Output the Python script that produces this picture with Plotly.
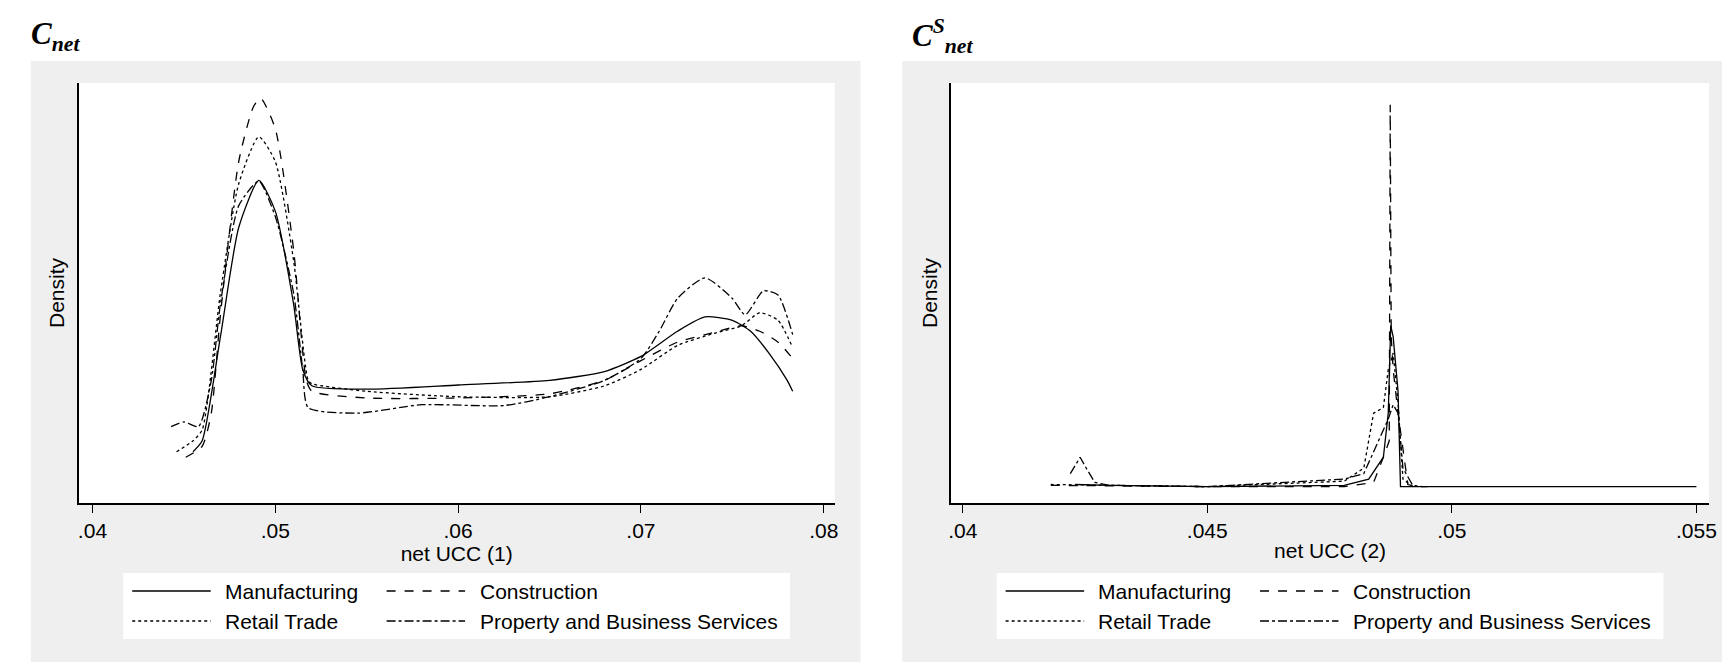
import plotly.graph_objects as go

series_names = ["Manufacturing", "Construction", "Retail Trade", "Property and Business Services"]
dashes = ["solid", "dash", "dot", "dashdot"]

# Panel 1: net UCC (1)
m1_x = [.0455,.046,.047,.048,.0491,.050,.051,.0515,.052,.055,.06,.065,.068,.07,.072,.0735,.075,.076,.077,.078,.0783]
m1_y = [12.2,14.8,39.6,65.6,76.8,69.5,47.4,31.8,27.9,27.1,28.1,29.2,31.3,34.9,40.9,44.3,43.5,40.9,35.7,29.2,26.6]
c1_x = [.0451,.046,.0465,.047,.048,.0488,.0492,.050,.051,.0517,.052,.055,.06,.065,.068,.07,.072,.074,.0755,.0765,.0775,.0783]
c1_y = [10.9,13.5,21.4,44.8,81.3,94.3,96.4,89.1,60.4,29.2,26.6,25.0,25.0,26.0,29.2,33.9,38.3,40.6,42.2,40.9,38.3,34.4]
r1_x = [.0446,.0455,.046,.047,.048,.0491,.050,.051,.0518,.052,.055,.06,.065,.068,.07,.072,.074,.0755,.0765,.0775,.0783]
r1_y = [12.2,14.8,17.4,50.0,76.0,87.2,81.3,57.8,29.2,28.4,26.6,25.3,25.3,27.9,31.8,37.5,40.4,42.2,45.3,43.5,37.0]
p1_x = [.0443,.045,.0458,.0465,.047,.048,.0491,.050,.051,.0515,.0518,.0545,.058,.0625,.065,.068,.07,.071,.072,.0735,.075,.0757,.0767,.0775,.0783]
p1_y = [18.2,19.3,18.2,29.2,47.4,70.8,76.6,68.2,50.0,31.8,22.7,21.4,23.4,23.2,25.3,29.2,34.4,40.9,48.7,53.6,48.7,44.8,50.5,49.5,40.1]

# Panel 2: net UCC (2)
m2_x = [.0423,.043,.045,.0478,.0483,.0486,.0487,.04875,.0488,.0489,.04895,.049,.055]
m2_y = [4.4,4.2,3.9,4.2,5.7,10.9,21.4,42.2,39.6,26.6,3.9,3.9,3.9]
c2_x = [.0418,.045,.0478,.0484,.0486,.04872,.04874,.04876,.0488,.0489,.0491,.0493,.0495]
c2_y = [4.2,3.9,3.9,4.9,10.9,14.8,94.8,39.6,31.8,21.4,4.4,3.9,3.9]
r2_x = [.0418,.045,.0478,.0482,.0484,.0486,.0487,.0488,.0489,.049,.0492]
r2_y = [4.4,3.9,5.2,8.3,21.4,22.7,31.8,35.7,24.0,5.7,3.9]
p2_x = [.0422,.0424,.0425,.0427,.043,.045,.0478,.0482,.0485,.0487,.0488,.0489,.049,.0492,.0494]
p2_y = [7.0,10.9,8.8,4.9,4.2,3.9,5.7,7.0,14.8,20.0,23.4,21.4,8.3,4.2,3.9]

W, H = 1730, 662
def px(x): return x / W
def py(y): return 1 - y / H

fig = go.Figure()
for xs, ys, d in [(m1_x, m1_y, "solid"), (c1_x, c1_y, "dash"), (r1_x, r1_y, "dot"), (p1_x, p1_y, "dashdot")]:
    fig.add_trace(go.Scatter(x=xs, y=ys, mode="lines", line=dict(color="black", width=1.3, dash=d, shape="spline", smoothing=0.6), showlegend=False, xaxis="x", yaxis="y"))
for xs, ys, d in [(m2_x, m2_y, "solid"), (c2_x, c2_y, "dash"), (r2_x, r2_y, "dot"), (p2_x, p2_y, "dashdot")]:
    fig.add_trace(go.Scatter(x=xs, y=ys, mode="lines", line=dict(color="black", width=1.3, dash=d), showlegend=False, xaxis="x2", yaxis="y2"))

font = dict(family="Liberation Sans, Arial", size=21, color="black")
ydom = [py(495), py(75)]
common_x = dict(showgrid=False, zeroline=False, showline=True, linecolor="black", linewidth=1.5,
                ticks="outside", ticklen=8, tickcolor="black", tickfont=font, title_font=font, title_standoff=2)
common_y = dict(showgrid=False, zeroline=False, showline=True, linecolor="black", linewidth=1.5,
                showticklabels=False, ticks="", title_text="Density", title_font=font, range=[0, 100], title_standoff=6)

fig.update_layout(
    width=W, height=H, margin=dict(l=0, r=0, t=0, b=0),
    paper_bgcolor="white", plot_bgcolor="white",
    xaxis=dict(domain=[px(68), px(829)], range=[0.03924, 0.0806], tickvals=[.04, .05, .06, .07, .08],
               ticktext=[".04", ".05", ".06", ".07", ".08"], title_text="net UCC (1)", anchor="y", **common_x),
    yaxis=dict(domain=ydom, anchor="x", **common_y),
    xaxis2=dict(domain=[px(946), px(1709)], range=[0.03976, 0.05526], tickvals=[.04, .045, .05, .055],
                ticktext=[".04", ".045", ".05", ".055"], title_text="net UCC (2)", anchor="y2", **common_x),
    yaxis2=dict(domain=ydom, anchor="x2", **common_y),
)

shapes = []
for x0, x1 in [(20, 855), (897, 1727)]:
    shapes.append(dict(type="rect", xref="paper", yref="paper", x0=px(x0), x1=px(x1), y0=0, y1=py(53),
                       fillcolor="#efefef", line=dict(width=0), layer="below"))
for x0, x1 in [(68, 829), (946, 1709)]:
    shapes.append(dict(type="rect", xref="paper", yref="paper", x0=px(x0), x1=px(x1), y0=py(495), y1=py(75),
                       fillcolor="white", line=dict(width=0), layer="below"))
annotations = []
for off in [0, 879]:
    shapes.append(dict(type="rect", xref="paper", yref="paper", x0=px(113 + off), x1=px(784 + off), y0=py(631), y1=py(565),
                       fillcolor="white", line=dict(width=0), layer="below"))
    pos = [(122, 583, 213), (378, 583, 470), (122, 613, 213), (378, 613, 470)]
    for (lx, ly, tx), name, d in zip(pos, series_names, dashes):
        shapes.append(dict(type="line", xref="paper", yref="paper", x0=px(lx + off), x1=px(lx + 79 + off),
                           y0=py(ly), y1=py(ly), line=dict(color="black", width=1.3, dash=d)))
        annotations.append(dict(xref="paper", yref="paper", x=px(tx + off), y=py(ly), text=name, showarrow=False,
                                xanchor="left", yanchor="middle", font=font))

tfont = dict(family="Liberation Serif, Times New Roman", size=31, color="black")
annotations.append(dict(xref="paper", yref="paper", x=px(18), y=py(28), text="<b><i>C<sub>net</sub></i></b>",
                        showarrow=False, xanchor="left", yanchor="middle", font=tfont))
annotations.append(dict(xref="paper", yref="paper", x=px(905), y=py(28), text="<b><i>C<sup>S</sup><sub>net</sub></i></b>",
                        showarrow=False, xanchor="left", yanchor="middle", font=tfont))
fig.update_layout(shapes=shapes, annotations=annotations)
fig.write_html("out.html")
